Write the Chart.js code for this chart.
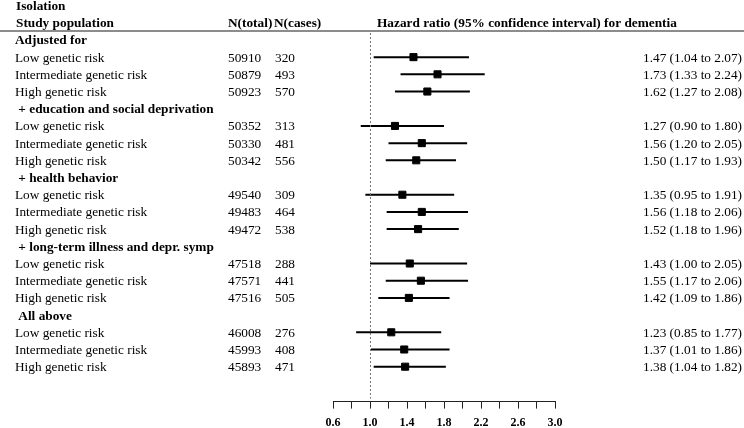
<!DOCTYPE html>
<html>
<head>
<meta charset="utf-8">
<script src="https://cdn.jsdelivr.net/npm/chart.js@4/dist/chart.umd.min.js"></script>
<style>
  html, body { margin: 0; padding: 0; background: #fff; }
  #wrap { width: 744px; height: 428px; }
</style>
</head>
<body>
<div id="wrap"><canvas id="forest" width="744" height="428"></canvas></div>
<script>
// rows top to bottom; group headers have no numbers
const rowLabels = [
    "Adjusted for", "Low genetic risk", "Intermediate genetic risk", "High genetic risk",
    " + education and social deprivation", "Low genetic risk", "Intermediate genetic risk", "High genetic risk",
    " + health behavior", "Low genetic risk", "Intermediate genetic risk", "High genetic risk",
    " + long-term illness and depr. symp", "Low genetic risk", "Intermediate genetic risk", "High genetic risk",
    " All above", "Low genetic risk", "Intermediate genetic risk", "High genetic risk"
];
const isGroup = [1,0,0,0, 1,0,0,0, 1,0,0,0, 1,0,0,0, 1,0,0,0];
const nTotal = [null, 50910, 50879, 50923, null, 50352, 50330, 50342, null, 49540, 49483, 49472,
                null, 47518, 47571, 47516, null, 46008, 45993, 45893];
const nCases = [null, 320, 493, 570, null, 313, 481, 556, null, 309, 464, 538,
                null, 288, 441, 505, null, 276, 408, 471];
const hr   = [null, 1.47, 1.73, 1.62, null, 1.27, 1.56, 1.50, null, 1.35, 1.56, 1.52,
              null, 1.43, 1.55, 1.42, null, 1.23, 1.37, 1.38];
const ciLo = [null, 1.04, 1.33, 1.27, null, 0.90, 1.20, 1.17, null, 0.95, 1.18, 1.18,
              null, 1.00, 1.17, 1.09, null, 0.85, 1.01, 1.04];
const ciHi = [null, 2.07, 2.24, 2.08, null, 1.80, 2.05, 1.93, null, 1.91, 2.06, 1.96,
              null, 2.05, 2.06, 1.86, null, 1.77, 1.86, 1.82];
const xTicks = [0.6, 1.0, 1.4, 1.8, 2.2, 2.6, 3.0];

const serif = "'Liberation Serif', 'Times New Roman', serif";
const fs = 13.3;

// whiskers: one small line dataset per estimate
const whiskers = [];
hr.forEach((v, i) => {
    if (v === null) return;
    whiskers.push({
        type: 'scatter',
        data: [{x: ciLo[i], y: i}, {x: ciHi[i], y: i}],
        showLine: true,
        borderColor: '#000',
        borderWidth: 2,
        pointRadius: 0,
        order: 2
    });
});

const points = [];
hr.forEach((v, i) => { if (v !== null) points.push({x: v, y: i}); });

const textPlugin = {
    id: 'forestText',
    afterDraw(chart) {
        const ctx = chart.ctx;
        const ys = chart.scales.y;
        const xs = chart.scales.x;
        ctx.save();

        // header rule
        ctx.strokeStyle = '#666';
        ctx.lineWidth = 1.5;
        ctx.beginPath();
        ctx.moveTo(0, 31);
        ctx.lineTo(744, 31);
        ctx.stroke();

        // reference line at HR = 1
        const x1 = Math.round(xs.getPixelForValue(1.0)) + 0.5;
        ctx.strokeStyle = '#777';
        ctx.lineWidth = 1;
        ctx.setLineDash([2, 2]);
        ctx.beginPath();
        ctx.moveTo(x1, 33);
        ctx.lineTo(x1, chart.chartArea.bottom - 3);
        ctx.stroke();
        ctx.setLineDash([]);

        ctx.fillStyle = '#000';
        ctx.textBaseline = 'middle';
        const dy = 1;
        ctx.font = 'bold ' + fs + 'px ' + serif;
        ctx.fillText('Isolation', 16, ys.getPixelForValue(-2) + dy);
        ctx.fillText('Study population', 16, ys.getPixelForValue(-1) + dy);
        ctx.fillText('N(total)', 228, ys.getPixelForValue(-1) + dy);
        ctx.fillText('N(cases)', 274, ys.getPixelForValue(-1) + dy);
        ctx.fillText('Hazard ratio (95% confidence interval) for dementia', 377, ys.getPixelForValue(-1) + dy);

        rowLabels.forEach((lab, i) => {
            const y = ys.getPixelForValue(i) + dy;
            if (isGroup[i]) {
                ctx.font = 'bold ' + fs + 'px ' + serif;
                ctx.fillText(lab, 15, y);
                return;
            }
            ctx.font = fs + 'px ' + serif;
            ctx.fillText(lab, 15, y);
            ctx.fillText(String(nTotal[i]), 228, y);
            ctx.fillText(String(nCases[i]), 275, y);
            ctx.textAlign = 'right';
            ctx.fillText(hr[i].toFixed(2) + ' (' + ciLo[i].toFixed(2) + ' to ' + ciHi[i].toFixed(2) + ')', 742, y);
            ctx.textAlign = 'left';
        });
        ctx.restore();
    }
};

new Chart(document.getElementById('forest'), {
    type: 'scatter',
    data: {
        datasets: [{
            data: points,
            pointStyle: 'rect',
            pointRadius: 5,
            pointBackgroundColor: '#000',
            pointBorderColor: '#000',
            pointBorderWidth: 1,
            order: 1
        }].concat(whiskers)
    },
    options: {
        responsive: false,
        devicePixelRatio: 1,
        animation: false,
        layout: { padding: { left: 333, right: 189, top: 31, bottom: -9 } },
        plugins: { legend: { display: false }, tooltip: { enabled: false } },
        scales: {
            x: {
                type: 'linear',
                min: 0.6,
                max: 3.0,
                grid: { drawOnChartArea: false, drawTicks: true, tickLength: 7, color: '#222' },
                border: { display: true, color: '#222', width: 1 },
                ticks: {
                    stepSize: 0.2,
                    autoSkip: false,
                    maxRotation: 0,
                    minRotation: 0,
                    padding: 7,
                    color: '#000',
                    font: { family: serif, size: 12, weight: 'bold' },
                    callback: (v) => {
                        const r = Math.round(v * 10) / 10;
                        return xTicks.some(t => Math.abs(t - r) < 1e-6) ? r.toFixed(1) : '';
                    }
                }
            },
            y: {
                type: 'linear',
                display: false,
                reverse: true,
                min: -0.52,
                max: 21.03
            }
        }
    },
    plugins: [textPlugin]
});
</script>
</body>
</html>
